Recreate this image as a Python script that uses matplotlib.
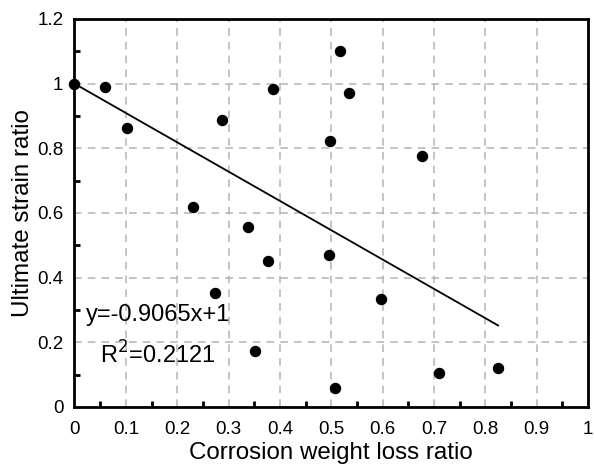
import matplotlib
matplotlib.use("Agg")
import matplotlib.pyplot as plt
import numpy as np
from matplotlib.ticker import MultipleLocator

plt.rcParams['font.family'] = ['Liberation Sans', 'DejaVu Sans']

x_vals = [0.0, 0.059, 0.102, 0.231, 0.287, 0.338, 0.386, 0.274, 0.377, 0.352,
          0.518, 0.534, 0.498, 0.676, 0.495, 0.596, 0.507, 0.710, 0.825]
y_vals = [1.0, 0.99, 0.863, 0.617, 0.889, 0.558, 0.982, 0.352, 0.451, 0.174,
          1.101, 0.971, 0.823, 0.775, 0.471, 0.333, 0.060, 0.104, 0.120]
slope = -0.9065
intercept = 1.0
eq_text = "y=-0.9065x+1"
r2_text = "R$^2$=0.2121"
x_ticks = [0, 0.1, 0.2, 0.3, 0.4, 0.5, 0.6, 0.7, 0.8, 0.9, 1.0]
x_labels = ["0", "0.1", "0.2", "0.3", "0.4", "0.5", "0.6", "0.7", "0.8", "0.9", "1"]
y_ticks = [0, 0.2, 0.4, 0.6, 0.8, 1.0, 1.2]
y_labels = ["0", "0.2", "0.4", "0.6", "0.8", "1", "1.2"]

fig = plt.figure(figsize=(5.94, 4.69), dpi=100)
ax = fig.add_axes([0.1254, 0.1322, 0.8645, 0.8273])

ax.set_xlim(0, 1)
ax.set_ylim(0, 1.2)

ax.set_xticks(x_ticks)
ax.set_xticklabels(x_labels)
ax.set_yticks(y_ticks)
ax.set_yticklabels(y_labels)
ax.xaxis.set_minor_locator(MultipleLocator(0.05))
ax.yaxis.set_minor_locator(MultipleLocator(0.1))
ax.tick_params(axis='both', which='major', length=0, labelsize=13.5)
ax.tick_params(axis='x', which='major', pad=10)
ax.tick_params(axis='y', which='major', pad=8)
ax.tick_params(axis='both', which='minor', direction='in', length=4, width=2)

ax.grid(True, which='major', color='#b4b4b4', linestyle=(0, (5, 4)), linewidth=1.1)
ax.set_axisbelow(True)

for sp in ax.spines.values():
    sp.set_linewidth(2)
    sp.set_color('black')

xs = np.array(x_vals)
xl = np.array([0.0, xs.max()])
ax.plot(xl, slope * xl + intercept, color='black', linewidth=1.3, zorder=3)
ax.scatter(x_vals, y_vals, s=52, color='black', zorder=4, clip_on=False)

ax.text(0.022, 0.283, eq_text, fontsize=17, va='center', ha='left')
ax.text(0.050, 0.160, r2_text, fontsize=17, va='center', ha='left')

ax.set_xlabel("Corrosion weight loss ratio", fontsize=17.4, labelpad=3)
ax.set_ylabel("Ultimate strain ratio", fontsize=17.4, labelpad=2)

fig.savefig("out.png", dpi=100)
